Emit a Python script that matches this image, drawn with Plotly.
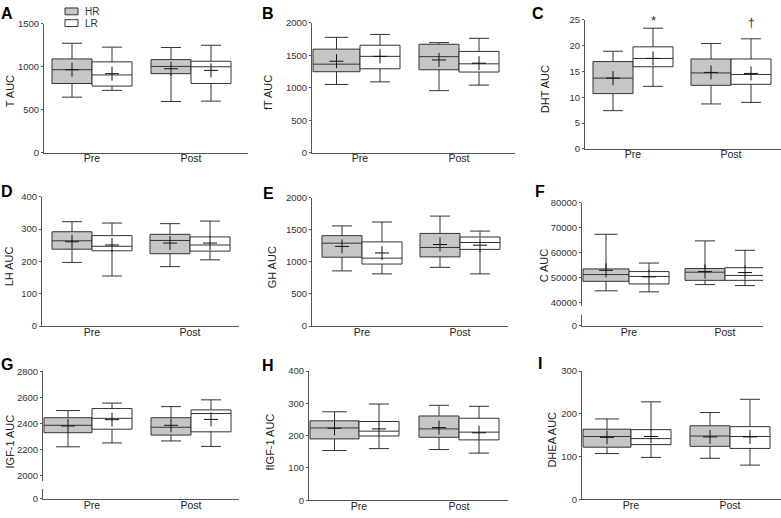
import plotly.graph_objects as go

# ---------------- data ----------------
CATEGORIES = ["Pre", "Post"]
GROUPS = ["HR", "LR"]
# each row: [lower whisker, Q1, median, Q3, upper whisker, mean]  (row 0 = Pre, row 1 = Post)
T_HR = [[646, 805, 965, 1090, 1272, 965], [596, 919, 1003, 1082, 1223, 976]]
T_LR = [[725, 775, 904, 1056, 1227, 919], [600, 805, 999, 1063, 1249, 957]]
FT_HR = [[1050, 1246, 1362, 1593, 1774, 1407], [955, 1276, 1477, 1668, 1693, 1427]]
FT_LR = [[1090, 1291, 1482, 1653, 1819, 1482], [1040, 1241, 1367, 1558, 1759, 1377]]
DHT_HR = [[7.4, 10.7, 13.7, 16.9, 18.9, 13.7], [8.7, 12.3, 14.7, 17.4, 20.4, 14.8]]
DHT_LR = [[12.1, 15.9, 17.5, 19.75, 23.35, 17.5], [9.0, 12.5, 14.4, 17.4, 21.3, 14.6]]
LH_HR = [[197, 238, 264, 292, 323, 261], [184, 224, 265, 284, 317, 257]]
LH_LR = [[155, 233, 247, 280, 319, 251], [205, 232, 251, 276, 325, 257]]
GH_HR = [[860, 1074, 1293, 1410, 1562, 1242], [916, 1079, 1226, 1445, 1715, 1272]]
GH_LR = [[814, 967, 1059, 1313, 1623, 1140], [814, 1196, 1303, 1389, 1481, 1262]]
C_HR = [[44800, 48600, 51300, 53550, 67400, 53000], [47300, 49000, 52250, 53700, 64750, 52500]]
C_LR = [[44400, 47550, 50550, 52500, 55900, 50400], [46900, 49000, 50950, 54050, 61000, 52100]]
IGF_HR = [[2222, 2330, 2387, 2445, 2500, 2382], [2267, 2312, 2372, 2445, 2530, 2387]]
IGF_LR = [[2252, 2357, 2440, 2515, 2557, 2430], [2225, 2337, 2477, 2505, 2582, 2432]]
FIGF_HR = [[154, 190, 224, 246, 274, 223], [157, 195, 221, 261, 294, 225]]
FIGF_LR = [[160, 199, 214, 244, 298, 221], [146, 187, 211, 254, 291, 209]]
DHEA_HR = [[107, 122, 147, 164, 188, 145], [96, 124, 148, 172, 203, 146]]
DHEA_LR = [[98, 128, 142, 163, 228, 147], [80, 119, 147, 170, 234, 146]]

PANEL_LETTERS = ["A", "B", "C", "D", "E", "F", "G", "H", "I"]
Y_TITLES = ["T AUC", "fT AUC", "DHT AUC", "LH AUC", "GH AUC", "C AUC",
            "IGF-1 AUC", "fIGF-1 AUC", "DHEA AUC"]
PANEL_DATA = [(T_HR, T_LR), (FT_HR, FT_LR), (DHT_HR, DHT_LR), (LH_HR, LH_LR),
              (GH_HR, GH_LR), (C_HR, C_LR), (IGF_HR, IGF_LR), (FIGF_HR, FIGF_LR),
              (DHEA_HR, DHEA_LR)]
Y_TICKS = [[0, 500, 1000, 1500], [0, 500, 1000, 1500, 2000], [0, 5, 10, 15, 20, 25],
           [0, 100, 200, 300, 400], [0, 500, 1000, 1500, 2000],
           [40000, 50000, 60000, 70000, 80000], [2000, 2200, 2400, 2600, 2800],
           [0, 100, 200, 300, 400], [0, 100, 200, 300]]
SIG_MARKS = ["*", "†"]  # above LR Pre / LR Post in panel C

# ---------------- layout geometry (pixels) ----------------
W, H = 781, 518
def fx(p): return p / W
def fy(p): return 1 - p / H

# left, right, pre-centre, post-centre, y-top px, y-zero px, ymax
GEOM = [
    (44, 248, 92, 191, 18, 150, 1500),
    (312, 515, 360, 459, 17, 150, 2000),
    (585, 781, 633, 731, 14, 146, 25),
    (42, 239, 92, 190, 195, 327, 400),
    (312, 508, 362, 460, 196, 327, 2000),
    (582, 763, 629, 725, None, None, None),
    (43, 239, 92, 191, None, None, None),
    (309, 508, 359, 459, 373, 505, 400),
    (582, 781, 631, 730, 373, 504, 300),
]
# first (HR, Pre) box reaches the y axis in these panels
FLUSH_FIRST = [False, True, False, False, False, True, True, True, True]
# broken axes: vtop, vlowtick, px top, px lowtick, px end main, lower seg top, lower seg bottom
BROKEN = {5: (80000, 40000, 201, 303.3, 307, 316, 327),
          6: (2800, 2000, 373.3, 480, 485, 493, 504)}
LETTER_POS = [(7, 8), (268, 8), (538, 8), (7, 190), (268, 192), (540, 190),
              (7, 366), (268, 367), (540, 365)]
TITLE_POS = [(10, 87), (268, 89), (545, 85), (9, 266), (272, 267), (544, 265),
             (10, 445), (270, 446), (552, 443)]

FILL = {"HR": "#c6c6c6", "LR": "#ffffff"}
LINE_C = "#333333"
AX_C = "#555555"
FONT = "Liberation Sans, Arial, sans-serif"

fig = go.Figure()
layout = dict(width=W, height=H, margin=dict(l=0, r=0, t=0, b=0), autosize=False,
              plot_bgcolor="white", paper_bgcolor="white", showlegend=False,
              font=dict(family=FONT, size=10, color="#333"))
annotations = []
shapes = []
extra_y = 10

for i in range(9):
    left, right, pre, post, ytop, yzero, ymax = GEOM[i]
    unit = post - pre
    bw = 40 / unit
    xname = "x" if i == 0 else f"x{i+1}"
    yname = "y" if i == 0 else f"y{i+1}"
    xkey = "xaxis" if i == 0 else f"xaxis{i+1}"
    ykey = "yaxis" if i == 0 else f"yaxis{i+1}"

    ax_common = dict(showgrid=False, zeroline=False, showline=True, linecolor=AX_C,
                     linewidth=1)
    ytick_common = dict(ticks="outside", ticklen=2, tickcolor=AX_C, tickformat="d",
                        tickfont=dict(size=9.5, color="#333"), showticklabels=True)
    xanchor = yname
    if i in BROKEN:
        vtop, vlow, ptop, plow, pend, lt, lb = BROKEN[i]
        rlow = vlow - (pend - plow) * (vtop - vlow) / (plow - ptop)
        layout[ykey] = dict(**ax_common, **ytick_common, domain=[fy(pend), fy(ptop)],
                            range=[rlow, vtop], tickvals=Y_TICKS[i], anchor=xname)
        extra_y += 1
        lowname = f"y{extra_y}"
        layout[f"yaxis{extra_y}"] = dict(**ax_common, **ytick_common,
                                         domain=[fy(lb), fy(lt)], range=[-0.04, 1],
                                         tickmode="array", tickvals=[0], anchor=xname)
        # invisible trace so the lower axis segment is drawn
        fig.add_trace(go.Scatter(x=[0], y=[0.5], mode="markers", xaxis=xname,
                                 yaxis=lowname, marker=dict(opacity=0, size=1),
                                 hoverinfo="skip", showlegend=False))
        xanchor = lowname
    else:
        layout[ykey] = dict(**ax_common, **ytick_common, domain=[fy(yzero), fy(ytop)],
                            range=[0, ymax], tickvals=Y_TICKS[i], anchor=xname)
    layout[xkey] = dict(**ax_common, domain=[fx(left), fx(right)],
                        range=[(left - pre) / unit, (right - pre) / unit],
                        tickvals=[0, 1], ticktext=CATEGORIES, ticks="",
                        ticklabelstandoff=-4,
                        anchor=xanchor, tickfont=dict(size=10.5, color="#222"))

    for gi, (g, data) in enumerate(zip(GROUPS, PANEL_DATA[i])):
        for k, r in enumerate(data):
            w = bw
            if gi == 0 and k == 0 and FLUSH_FIRST[i]:
                w = (pre - left - 1) / unit
            xc = k - w / 2 if gi == 0 else k + bw / 2
            fig.add_trace(go.Box(
                x=[xc], lowerfence=[r[0]], q1=[r[1]], median=[r[2]], q3=[r[3]],
                upperfence=[r[4]], width=w, whiskerwidth=0.5,
                fillcolor=FILL[g], line=dict(color=LINE_C, width=1), boxpoints=False,
                name=f"{g} {CATEGORIES[k]}", xaxis=xname, yaxis=yname, hoverinfo="skip"))
            fig.add_trace(go.Scatter(
                x=[xc], y=[r[5]], mode="markers",
                marker=dict(symbol="cross-thin", size=10, line=dict(color="#111", width=1)),
                xaxis=xname, yaxis=yname, cliponaxis=False, hoverinfo="skip",
                name=f"{g} {CATEGORIES[k]} mean"))

    lx, ly = LETTER_POS[i]
    annotations.append(dict(text=f"<b>{PANEL_LETTERS[i]}</b>", x=fx(lx), y=fy(ly),
                            xref="paper", yref="paper", showarrow=False,
                            font=dict(size=16, color="black", family=FONT),
                            xanchor="center", yanchor="middle"))
    tx, ty = TITLE_POS[i]
    annotations.append(dict(text=Y_TITLES[i], x=fx(tx), y=fy(ty), xref="paper",
                            yref="paper", showarrow=False, textangle=-90,
                            font=dict(size=11, color="#222", family=FONT),
                            xanchor="center", yanchor="middle"))

# significance marks on panel C (above LR boxes)
bwC = 40 / (GEOM[2][3] - GEOM[2][2])
for k, (mark, yv) in enumerate(zip(SIG_MARKS, [24.9, 24.4])):
    annotations.append(dict(text=mark, x=k + bwC / 2, y=yv, xref="x3", yref="y3",
                            showarrow=False, yanchor="middle",
                            font=dict(size=13 if mark == "*" else 12, color="#333",
                                      family=FONT)))

# legend (panel A)
for k, g in enumerate(GROUPS):
    y0 = 2 + 12 * k
    shapes.append(dict(type="rect", xref="paper", yref="paper", x0=fx(65), x1=fx(78),
                       y0=fy(y0), y1=fy(y0 + 7), fillcolor=FILL[g],
                       line=dict(color=LINE_C, width=1)))
    annotations.append(dict(text=g, x=fx(83), y=fy(y0 + 3.5), xref="paper", yref="paper",
                            showarrow=False, xanchor="left", yanchor="middle",
                            font=dict(size=10, color="#333", family=FONT)))

layout["annotations"] = annotations
layout["shapes"] = shapes
fig.update_layout(**layout)
fig.write_html("out.html", config={"displayModeBar": False},
               post_script="document.body.style.margin='0';document.body.style.overflow='hidden';")
